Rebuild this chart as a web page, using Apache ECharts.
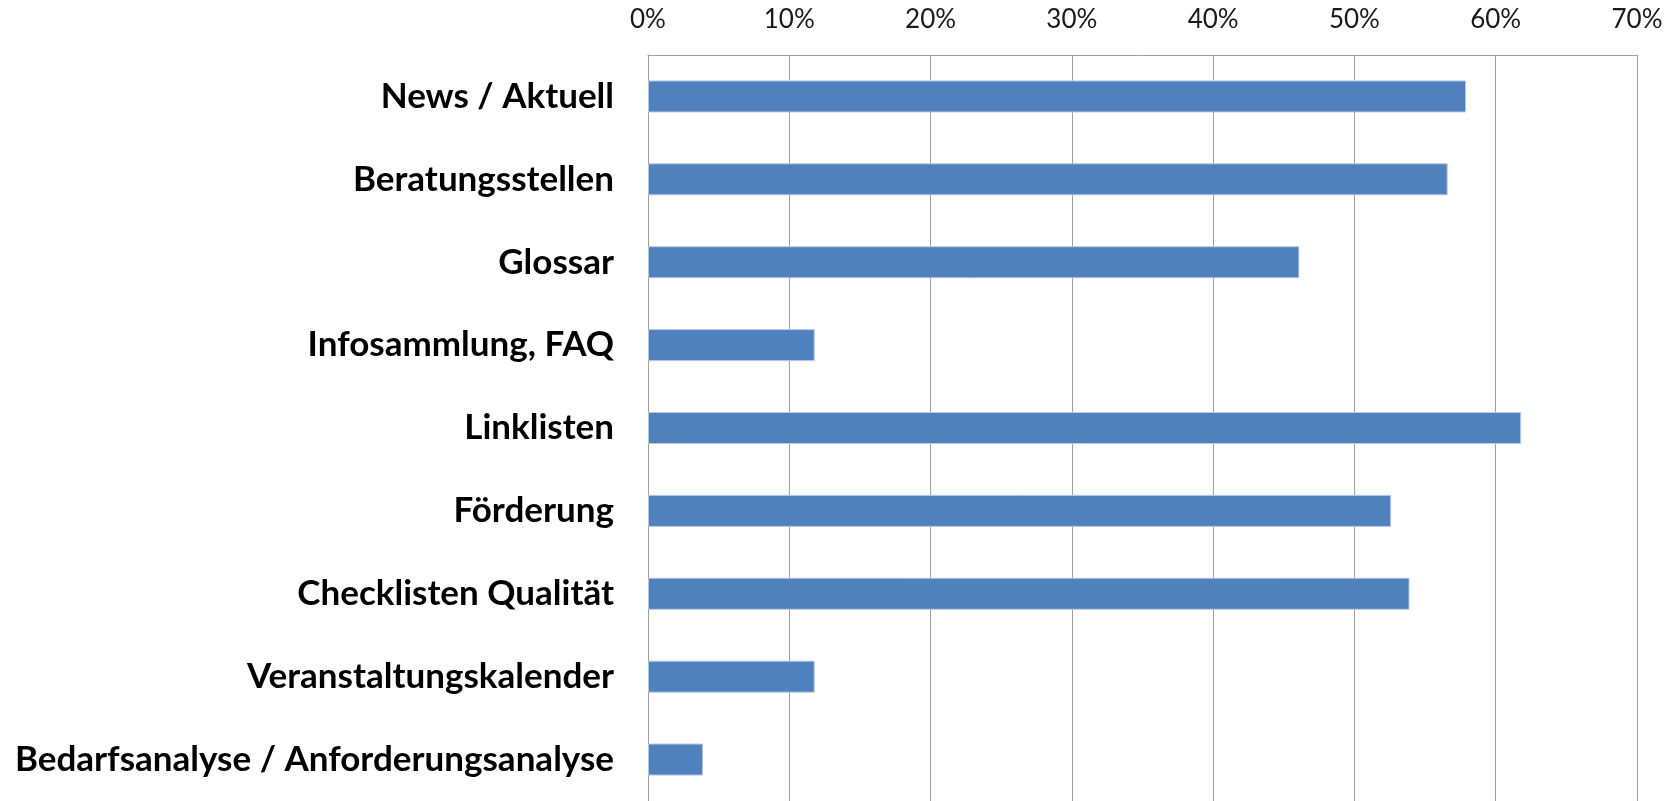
<!DOCTYPE html>
<html>
<head>
<meta charset="utf-8">
<script src="https://cdn.jsdelivr.net/npm/echarts@6/dist/echarts.min.js"></script>
<style>
html,body{margin:0;padding:0;background:#fff;}
#chart{width:1674px;height:801px;}
</style>
</head>
<body>
<div id="chart"></div>
<script>
const categories = [
  "News / Aktuell",
  "Beratungsstellen",
  "Glossar",
  "Infosammlung, FAQ",
  "Linklisten",
  "Förderung",
  "Checklisten Qualität",
  "Veranstaltungskalender",
  "Bedarfsanalyse / Anforderungsanalyse"
];
const values = [57.9, 56.6, 46.1, 11.8, 61.8, 52.6, 53.9, 11.8, 3.9];
const tickMin = 0, tickMax = 70, tickStep = 10;

const chart = echarts.init(document.getElementById('chart'), null, {renderer: 'canvas'});
chart.setOption({
  animation: false,
  backgroundColor: '#ffffff',
  grid: {left: 648, right: 37, top: 55, bottom: 0, containLabel: false},
  xAxis: {
    type: 'value',
    position: 'top',
    min: tickMin, max: tickMax, interval: tickStep,
    axisLine: {show: true, lineStyle: {color: '#a0a0a0', width: 1}},
    axisTick: {show: false},
    axisLabel: {
      formatter: '{value}%',
      fontFamily: 'Lato', fontSize: 26, color: '#1a1a1a', margin: 22
    },
    splitLine: {show: true, lineStyle: {color: '#a0a0a0', width: 1}}
  },
  yAxis: {
    type: 'category',
    inverse: true,
    data: categories,
    axisLine: {show: true, lineStyle: {color: '#a0a0a0', width: 1}},
    axisTick: {show: false},
    axisLabel: {
      fontFamily: 'Lato', fontWeight: 'bold', fontSize: 35, color: '#000', margin: 34
    }
  },
  series: [{
    type: 'bar',
    data: values,
    barWidth: 32,
    itemStyle: {color: '#4f81bd', borderColor: '#b4c8e4', borderWidth: 1}
  }]
});
</script>
</body>
</html>
